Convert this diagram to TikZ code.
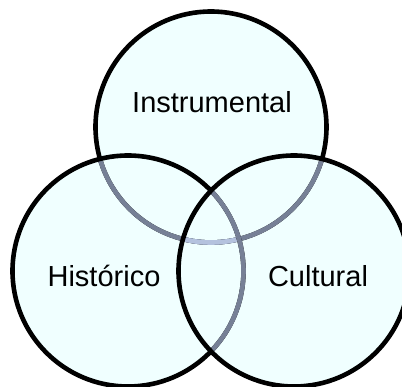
\documentclass[tikz,border=0pt]{standalone}
\usepackage{fontspec}
\setmainfont{Liberation Sans}
\definecolor{setfill}{RGB}{240,255,255}
\definecolor{oneover}{RGB}{118,128,150}
\definecolor{twoover}{RGB}{180,194,222}
\newcommand{\setrad}{115.5pt}
\begin{document}
\begin{tikzpicture}[x=1pt, y=-1pt,
		ring/.style={draw=black, line width=4.6pt},
		lbl/.style={font=\fontsize{29}{35}\selectfont, anchor=base, inner sep=0pt}]
	\useasboundingbox (0,0) rectangle (402,387);
	\coordinate (instr) at (211,127);
	\coordinate (hist) at (128,271);
	\coordinate (cult) at (294,271);
	\foreach \c in {instr,hist,cult} {\fill[setfill] (\c) circle (\setrad);}
	\draw[ring] (instr) circle (\setrad);
	\begin{scope}
		\clip (hist) circle (\setrad);
		\draw[ring, draw=oneover] (instr) circle (\setrad);
	\end{scope}
	\begin{scope}
		\clip (cult) circle (\setrad);
		\draw[ring, draw=oneover] (instr) circle (\setrad);
		\clip (hist) circle (\setrad);
		\draw[ring, draw=twoover] (instr) circle (\setrad);
	\end{scope}
	\draw[ring] (hist) circle (\setrad);
	\begin{scope}
		\clip (cult) circle (\setrad);
		\draw[ring, draw=oneover] (hist) circle (\setrad);
	\end{scope}
	\draw[ring] (cult) circle (\setrad);
	\node[lbl] (tinstr) at (212,113) {Instrumental};
	\node[lbl] (thist) at (104,287) {Histórico};
	\node[lbl] (tcult) at (318,287) {Cultural};
\end{tikzpicture}
\end{document}
